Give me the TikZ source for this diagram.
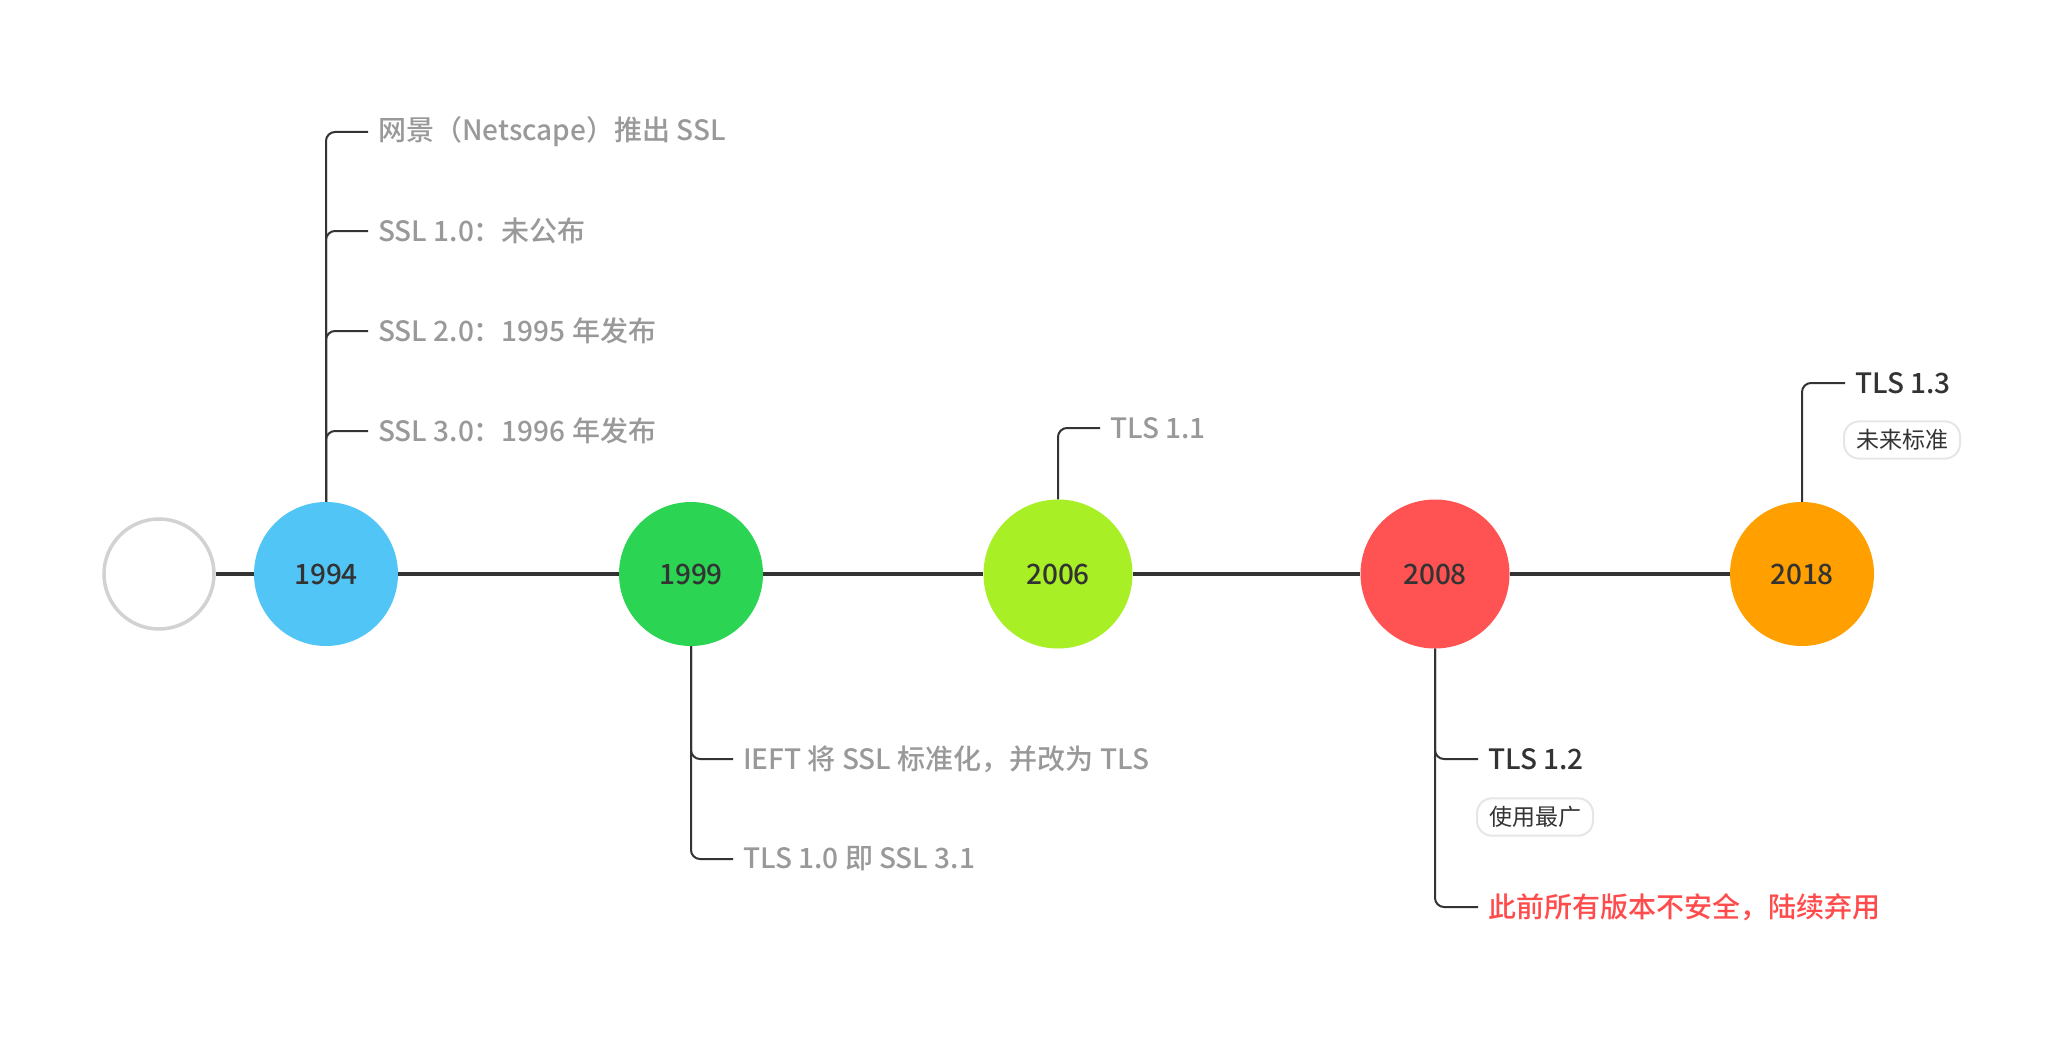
\documentclass[tikz,border=0pt]{standalone}
\usepackage{fontspec}
\setmainfont{Noto Sans CJK SC}[BoldFont={Noto Sans CJK SC Medium}]
\usepackage{tikz}

\definecolor{ink}{HTML}{333333}
\definecolor{grey}{HTML}{999999}
\definecolor{ring}{HTML}{D2D2D2}
\definecolor{notegrey}{HTML}{E6E6E6}
\definecolor{warn}{HTML}{FF4B4B}
\definecolor{c1994}{HTML}{52C5F7}
\definecolor{c1999}{HTML}{2BD553}
\definecolor{c2006}{HTML}{A8EF26}
\definecolor{c2008}{HTML}{FF5353}
\definecolor{c2018}{HTML}{FFA000}

\tikzset{
    year/.style={circle, minimum size=144pt, inner sep=0pt, text=ink,
        font=\fontsize{28}{34}\selectfont\bfseries},
    leaf/.style={anchor=west, inner xsep=10pt, inner ysep=0pt, text=grey,
        font=\fontsize{28}{34}\selectfont\bfseries},
    note/.style={draw=notegrey, line width=2pt, fill=white, rounded corners=15pt,
        anchor=west, inner xsep=12pt, inner ysep=8pt, text=ink,
        font=\fontsize{23}{28}\selectfont},
    branch/.style={draw=ink, line width=2pt, rounded corners=9pt},
    mainline/.style={draw=ink, line width=4pt}
}

\begin{document}
\begin{tikzpicture}[x=1pt, y=-1pt]
            \useasboundingbox[fill=white] (0, 0) rectangle (2066, 1038);
            % timeline
            \node[circle, draw=ring, line width=3.5pt, minimum size=110pt] (y0) at (159, 574) {};
            \node[year, fill=c1994] (y1994) at (326, 574) {1994};
            \node[year, fill=c1999] (y1999) at (691, 574) {1999};
            \node[year, fill=c2006, minimum size=149pt] (y2006) at (1058, 574) {2006};
            \node[year, fill=c2008, minimum size=149pt] (y2008) at (1435, 574) {2008};
            \node[year, fill=c2018] (y2018) at (1802, 574) {2018};
            \draw[mainline] (y0) -- (y1994);
            \draw[mainline] (y1994) -- (y1999);
            \draw[mainline] (y1999) -- (y2006);
            \draw[mainline] (y2006) -- (y2008);
            \draw[mainline] (y2008) -- (y2018);
            % 1994
            \foreach \n/\y/\t in {1/132/{网景（Netscape）推出 SSL}, 2/231/{SSL 1.0：未公布},
                3/331/{SSL 2.0：1995 年发布}, 4/431/{SSL 3.0：1996 年发布}}
            {
                \node[leaf] (ssl\n) at (368, \y) {\t};
                \draw[branch] (y1994.north) |- (ssl\n.west);
            }
            % 1999
            \node[leaf] (ieft) at (733, 759) {IEFT 将 SSL 标准化，并改为 TLS};
            \node[leaf] (tls10) at (733, 859) {TLS 1.0 即 SSL 3.1};
            \draw[branch] (y1999.south) |- (ieft.west);
            \draw[branch] (y1999.south) |- (tls10.west);
            % 2006
            \node[leaf] (tls11) at (1100, 428) {TLS 1.1};
            \draw[branch] (y2006.north) |- (tls11.west);
            % 2008
            \node[leaf, text=ink] (tls12) at (1478, 759) {TLS 1.2};
            \node[note] (wide) at (1476, 817) {使用最广};
            \node[leaf, text=warn] (old) at (1478, 907) {此前所有版本不安全，陆续弃用};
            \draw[branch] (y2008.south) |- (tls12.west);
            \draw[branch] (y2008.south) |- (old.west);
            % 2018
            \node[leaf, text=ink] (tls13) at (1845, 383) {TLS 1.3};
            \node[note] (future) at (1843, 440) {未来标准};
            \draw[branch] (y2018.north) |- (tls13.west);
        \end{tikzpicture}
\end{document}
